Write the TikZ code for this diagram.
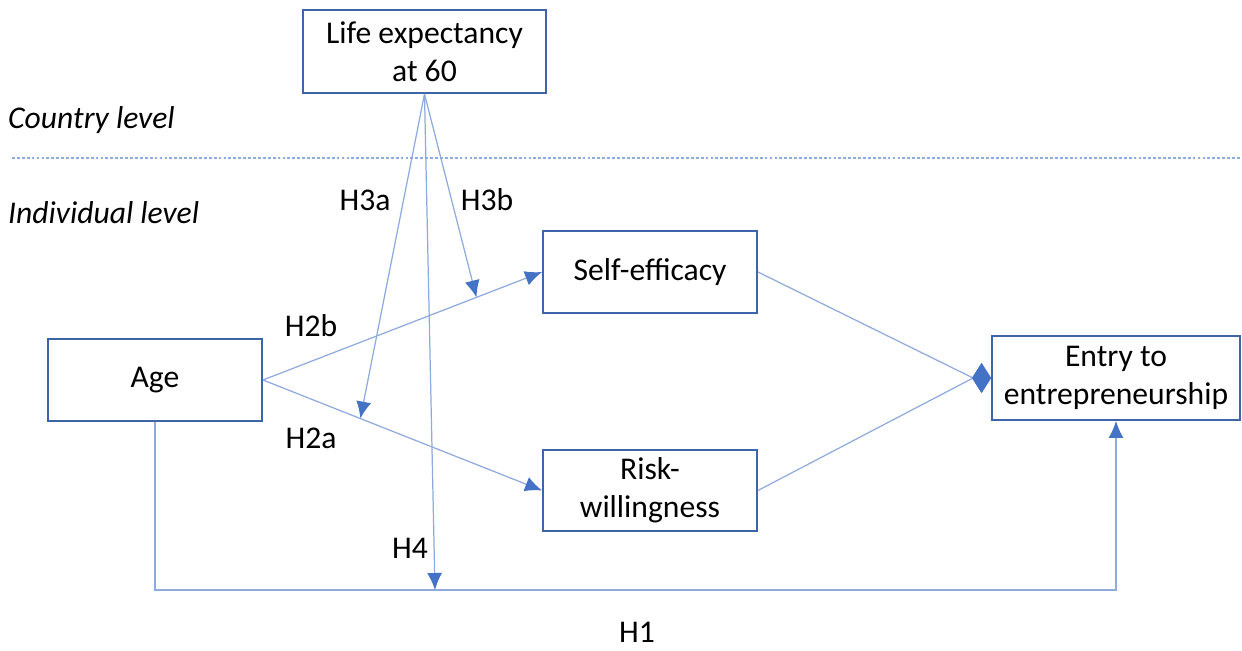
\documentclass[tikz,border=0pt]{standalone}
\usepackage{fontspec}
\setmainfont{Carlito}
\usetikzlibrary{arrows.meta,positioning}
\definecolor{boxblue}{RGB}{62,100,170}
\definecolor{lineblue}{RGB}{143,170,220}
\definecolor{tipblue}{RGB}{68,114,196}

\begin{document}
\begin{tikzpicture}[
    x=0.02cm, y=-0.02cm,
    font=\fontsize{18}{21.5}\selectfont,
    block/.style={
		rectangle,
		draw=boxblue,
		line width=1.1pt,
		text centered,
		align=center,
		minimum width=4.28cm,
		minimum height=1.63cm,
		fill=white
	},
	link/.style={
		draw=lineblue,
		line width=0.7pt
	},
	tip/.style={
		-{Latex[length=0.34cm,width=0.3cm,color=tipblue]}
	},
	diam/.style={
		-{Diamond[length=0.38cm,width=0.6cm,color=tipblue]}
	},
	hyp/.style={
		anchor=center
	},
	level/.style={
		anchor=west,
		font=\fontsize{18}{21.5}\selectfont\itshape
	}
  ]
  \useasboundingbox (0,0) rectangle (1242,651);

    % We start by placing the blocks
  \node [block, minimum width=4.86cm, minimum height=1.66cm] (life) at (424.5,51.5) {Life expectancy\\at 60};
  \node [block] (self) at (650,272) {Self-efficacy};
  \node [block] (age) at (155,380) {Age};
  \node [block] (risk) at (650,490.5) {Risk-\\willingness};
  \node [block, minimum width=4.96cm, minimum height=1.68cm] (entry) at (1116,378) {Entry to\\entrepreneurship};

  % levels
  \node [level] (country) at (2,120) {Country level};
  \node [level] (individual) at (2,213) {Individual level};
  \draw [draw=lineblue, line width=0.8pt, dash pattern=on 1.6pt off 1.2pt] (12,158) -- (1242,158);

  % paths
  \draw [link,tip] (age.east) -- coordinate[pos=0.765] (h3bpt) (self.west);
  \draw [link,tip] (age.east) -- coordinate[pos=0.349] (h3apt) (risk.west);
  \draw [link,diam] (self.east) -- ([xshift=-0.36cm]entry.west) -- (entry.west);
  \draw [link,diam] (risk.east) -- ([xshift=-0.36cm]entry.west) -- (entry.west);

  \coordinate (h4pt) at (435,590);
  \draw [link,tip] (age.south) |- (h4pt) -| (entry.south);

  \draw [link,tip] (life.south) -- (h3apt);
  \draw [link,tip] (life.south) -- (h3bpt);
  \draw [link,tip] (life.south) -- (h4pt);

  % hypotheses
  \node [hyp] (h3a) at (365,200) {H3a};
  \node [hyp] (h3b) at (487,200) {H3b};
  \node [hyp] (h2b) at (311,326) {H2b};
  \node [hyp] (h2a) at (311,438) {H2a};
  \node [hyp] (h4) at (410,548) {H4};
  \node [hyp] (h1) at (637,632) {H1};

\end{tikzpicture}
\end{document}
